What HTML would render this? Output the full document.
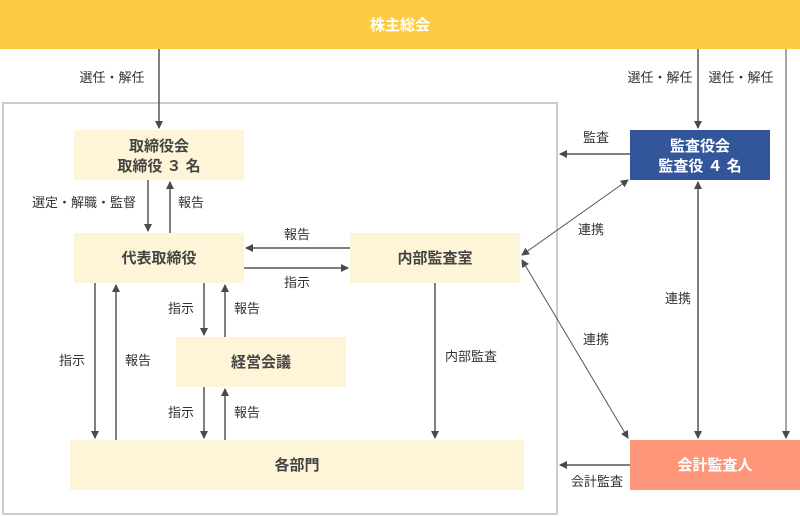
<!DOCTYPE html>
<html><head><meta charset="utf-8"><style>
body{margin:0;background:#fff}
svg{display:block}
text{font-family:"Liberation Sans","Noto Sans CJK JP",sans-serif;font-size:13px;fill:#333}
.b{font-size:15px;font-weight:bold;fill:#444}
.w{font-size:15px;font-weight:bold;fill:#fff}
</style></head><body>
<svg width="800" height="516" viewBox="0 0 800 516" xmlns="http://www.w3.org/2000/svg">
<defs>
<marker id="a" markerWidth="8" markerHeight="8" refX="7" refY="4" orient="auto-start-reverse" markerUnits="userSpaceOnUse">
<path d="M0,0 L8,4 L0,8 z" fill="#4a4a4a"/></marker>
</defs>
<rect x="0" y="0" width="800" height="49" fill="#fecb45"/>
<text x="400" y="30" class="w" text-anchor="middle">株主総会</text>
<rect x="3" y="103" width="554" height="411" fill="none" stroke="#cccccc" stroke-width="2"/>
<rect x="74" y="130" width="170" height="50" fill="#fef5d8"/>
<text x="159" y="151" class="b" text-anchor="middle">取締役会</text>
<text x="159" y="171" class="b" text-anchor="middle">取締役 ３ 名</text>
<rect x="74" y="233" width="170" height="50" fill="#fef5d8"/>
<text x="159" y="263" class="b" text-anchor="middle">代表取締役</text>
<rect x="350" y="233" width="170" height="50" fill="#fef5d8"/>
<text x="435" y="263" class="b" text-anchor="middle">内部監査室</text>
<rect x="176" y="337" width="170" height="50" fill="#fef5d8"/>
<text x="261" y="367" class="b" text-anchor="middle">経営会議</text>
<rect x="70" y="440" width="454" height="50" fill="#fef5d8"/>
<text x="297" y="470" class="b" text-anchor="middle">各部門</text>
<rect x="630" y="130" width="140" height="50" fill="#33569a"/>
<text x="700" y="151" class="w" text-anchor="middle">監査役会</text>
<text x="700" y="171" class="w" text-anchor="middle">監査役 ４ 名</text>
<rect x="630" y="440" width="170" height="50" fill="#fe9679"/>
<text x="715" y="470" class="w" text-anchor="middle">会計監査人</text>
<g stroke="#555" stroke-width="1.5" fill="none">
<line x1="159" y1="49" x2="159" y2="128" marker-end="url(#a)"/>
<line x1="698" y1="49" x2="698" y2="128" marker-end="url(#a)"/>
<line x1="786" y1="49" x2="786" y2="438" marker-end="url(#a)" stroke="#888"/>
<line x1="630" y1="154" x2="560" y2="154" marker-end="url(#a)"/>
<line x1="628" y1="180" x2="522" y2="255" marker-start="url(#a)" marker-end="url(#a)" stroke-width="1"/>
<line x1="698" y1="182" x2="698" y2="438" marker-start="url(#a)" marker-end="url(#a)"/>
<line x1="522" y1="260" x2="628" y2="438" marker-start="url(#a)" marker-end="url(#a)" stroke-width="1"/>
<line x1="630" y1="465" x2="560" y2="465" marker-end="url(#a)"/>
<line x1="148" y1="180" x2="148" y2="231" marker-end="url(#a)"/>
<line x1="170" y1="233" x2="170" y2="182" marker-end="url(#a)"/>
<line x1="350" y1="248" x2="246" y2="248" marker-end="url(#a)"/>
<line x1="244" y1="268" x2="348" y2="268" marker-end="url(#a)"/>
<line x1="95" y1="283" x2="95" y2="438" marker-end="url(#a)"/>
<line x1="116" y1="440" x2="116" y2="285" marker-end="url(#a)"/>
<line x1="204" y1="283" x2="204" y2="335" marker-end="url(#a)"/>
<line x1="225" y1="337" x2="225" y2="285" marker-end="url(#a)"/>
<line x1="204" y1="387" x2="204" y2="438" marker-end="url(#a)"/>
<line x1="225" y1="440" x2="225" y2="389" marker-end="url(#a)"/>
<line x1="435" y1="283" x2="435" y2="438" marker-end="url(#a)"/>
</g>
<text x="112" y="82" text-anchor="middle">選任・解任</text>
<text x="660" y="82" text-anchor="middle">選任・解任</text>
<text x="741" y="82" text-anchor="middle">選任・解任</text>
<text x="596" y="142" text-anchor="middle">監査</text>
<text x="591" y="234" text-anchor="middle">連携</text>
<text x="678" y="303" text-anchor="middle">連携</text>
<text x="596" y="344" text-anchor="middle">連携</text>
<text x="597" y="486" text-anchor="middle">会計監査</text>
<text x="84" y="207" text-anchor="middle">選定・解職・監督</text>
<text x="191" y="207" text-anchor="middle">報告</text>
<text x="297" y="239" text-anchor="middle">報告</text>
<text x="297" y="287" text-anchor="middle">指示</text>
<text x="72" y="365" text-anchor="middle">指示</text>
<text x="138" y="365" text-anchor="middle">報告</text>
<text x="181" y="313" text-anchor="middle">指示</text>
<text x="247" y="313" text-anchor="middle">報告</text>
<text x="181" y="417" text-anchor="middle">指示</text>
<text x="247" y="417" text-anchor="middle">報告</text>
<text x="471" y="361" text-anchor="middle">内部監査</text>
</svg>
</body></html>
